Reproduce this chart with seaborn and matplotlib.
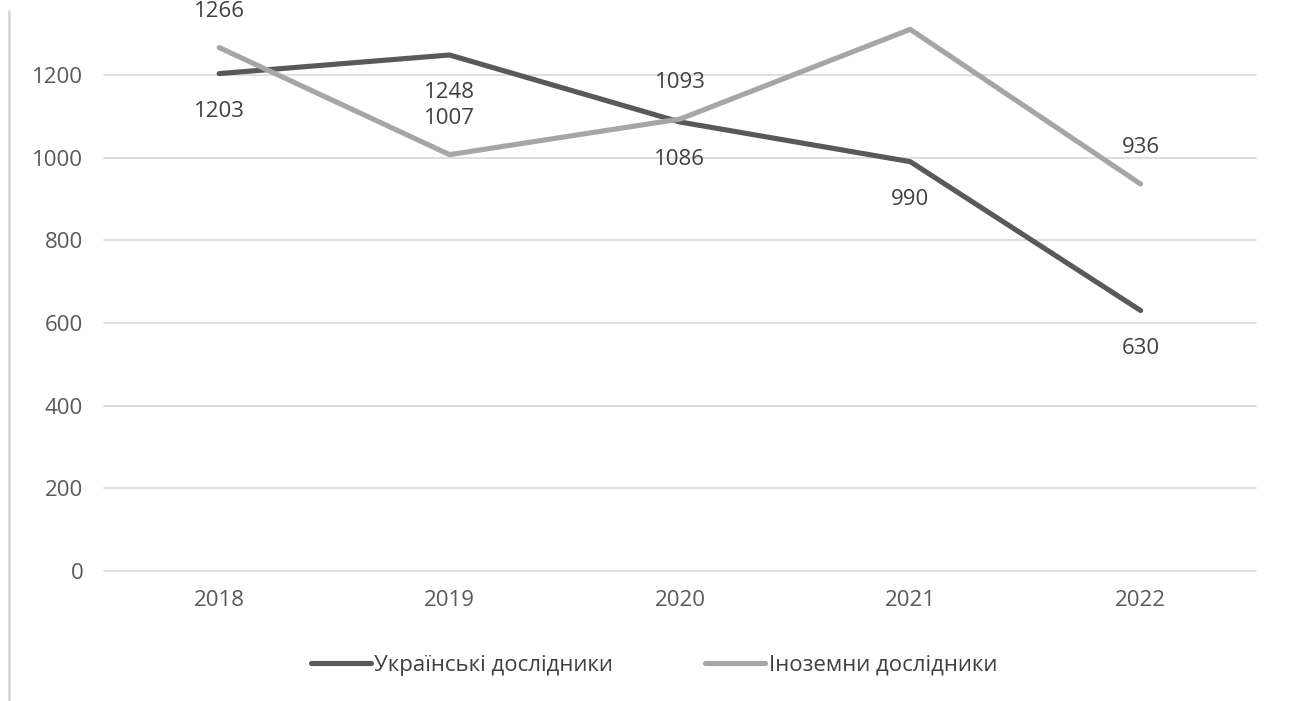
import pandas as pd
import numpy as np
import matplotlib.pyplot as plt
from matplotlib.lines import Line2D
import seaborn as sns

# chart values
years = [2018, 2019, 2020, 2021, 2022]
ukrainian = [1203, 1248, 1086, 990, 630]
foreign = [1266, 1007, 1093, 1310, 936]
series_names = ['Українські дослідники', 'Іноземни дослідники']
yticks = [0, 200, 400, 600, 800, 1000, 1200]

df = pd.DataFrame({
    'year': years * 2,
    'value': ukrainian + foreign,
    'series': [series_names[0]] * len(years) + [series_names[1]] * len(years),
})

sns.set_theme(style='white')
plt.rcParams['font.family'] = ['Open Sans', 'DejaVu Sans']

dark = '#595959'
light = '#A6A6A6'
fs = 16

fig = plt.figure(figsize=(13, 7.01), dpi=100)
ax = fig.add_axes([0.080, 0.1854, 0.886, 0.8146])

sns.lineplot(data=df, x='year', y='value', hue='series',
             palette=[dark, light], linewidth=3.7, ax=ax, legend=False)

ax.set_xlim(2017.5, 2022.5)
ax.set_ylim(0, 1381)
ax.set_yticks(yticks)
ax.set_xticks(years)
ax.set_xticklabels([str(y) for y in years])
ax.grid(axis='y', color='#D9D9D9', linewidth=1.2)
ax.set_axisbelow(True)
for g in ax.yaxis.get_gridlines():
    g.set_clip_on(False)
for s in ax.spines.values():
    s.set_visible(False)
ax.set_xlabel('')
ax.set_ylabel('')
ax.tick_params(axis='both', colors='#595959', labelsize=fs, length=0)
ax.tick_params(axis='y', pad=15)
ax.tick_params(axis='x', pad=14)

# data labels: dark below, light above
for x, v in zip(years, ukrainian):
    ax.annotate(str(v), (x, v), xytext=(0, -27), textcoords='offset points',
                ha='center', va='center', fontsize=fs, color='#404040',
                annotation_clip=False)
for x, v in zip(years, foreign):
    ax.annotate(str(v), (x, v), xytext=(0, 26), textcoords='offset points',
                ha='center', va='center', fontsize=fs, color='#404040',
                annotation_clip=False)

handles = [Line2D([], [], color=dark, linewidth=3.7),
           Line2D([], [], color=light, linewidth=3.7)]
fig.legend(handles, series_names, loc='center', bbox_to_anchor=(0.503, 0.051),
           ncol=2, frameon=False, fontsize=fs, handlelength=2.7,
           handletextpad=0.15, columnspacing=4.15, labelcolor='#404040')

# frame edge on the left
fig.add_artist(Line2D([0.007, 0.007], [0.0, 0.985], color='#D9D9D9',
                      linewidth=2, transform=fig.transFigure))

fig.savefig('out.png', dpi=100)
